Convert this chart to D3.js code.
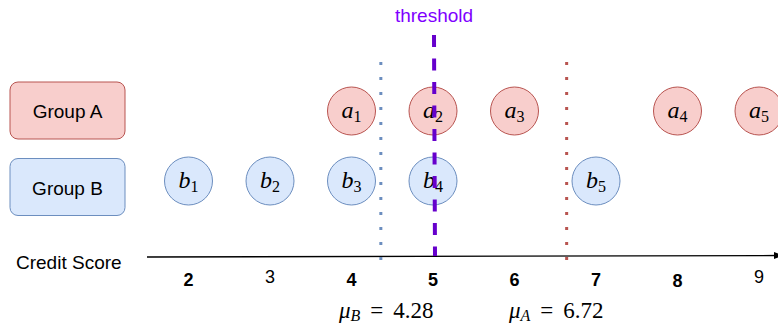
<!DOCTYPE html>
<html><head><meta charset="utf-8">
<script src="https://cdn.jsdelivr.net/npm/d3@7"></script>
<style>html,body{margin:0;padding:0;background:#fff;}svg{display:block;}</style>
</head><body>
<script>
// Data
const tickValues = [2, 3, 4, 5, 6, 7, 8, 9];
const groupAScores = [4, 5, 6, 8, 9];
const groupBScores = [2, 3, 4, 5, 7];
const groups = ["Group A", "Group B"];
const meanLinePositions = [4.36, 6.64]; // B, A (as drawn)
const meanLabels = [{sym: "B", value: "4.28"}, {sym: "A", value: "6.72"}];
const thresholdValue = 5;
const axisTitle = "Credit Score";

const W = 778, H = 325;
const svg = d3.select("body").append("svg").attr("width", W).attr("height", H);

const x = d3.scaleLinear().domain([2, 9]).range([188.5, 759]);
const yRow = d3.scalePoint().domain(groups).range([111, 181]);
const yBox = d3.scalePoint().domain(groups).range([110.5, 187]);
const axisY = 256.5;

const sans = "'Liberation Sans', Arial, Helvetica, sans-serif";
const serif = "'Liberation Serif', 'Times New Roman', serif";

const colors = {
  "Group A": {fill: "#f8cecc", stroke: "#b85450"},
  "Group B": {fill: "#dae8fc", stroke: "#6c8ebf"}
};

// Group boxes
const boxes = svg.append("g").selectAll("g").data(groups).join("g");
boxes.append("rect")
  .attr("x", 10).attr("y", d => yBox(d) - 28.5)
  .attr("width", 115).attr("height", 57).attr("rx", 8)
  .attr("fill", d => colors[d].fill).attr("stroke", d => colors[d].stroke).attr("stroke-width", 1);
boxes.append("text")
  .attr("x", 67.5).attr("y", d => yBox(d) + 7.5)
  .attr("text-anchor", "middle").attr("font-family", sans).attr("font-size", 19)
  .attr("fill", "#000").text(d => d);

// Axis line with arrow
const defs = svg.append("defs");
defs.append("marker").attr("id", "arr").attr("viewBox", "0 0 10 10")
  .attr("refX", 9).attr("refY", 5).attr("markerWidth", 7).attr("markerHeight", 7)
  .attr("orient", "auto").append("path").attr("d", "M0,1 L10,5 L0,9 Z").attr("fill", "#000");
svg.append("line").attr("x1", 147).attr("x2", 782).attr("y1", axisY + 0.5).attr("y2", axisY - 1)
  .attr("stroke", "#000").attr("stroke-width", 1.3).attr("marker-end", "url(#arr)");

// Tick labels
svg.append("g").selectAll("text").data(tickValues).join("text")
  .attr("x", d => x(d)).attr("y", d => (d === 3 || d === 9) ? 283 : (d === 8 ? 287 : 285.5))
  .attr("text-anchor", "middle").attr("font-family", sans).attr("font-size", 18)
  .attr("font-weight", d => (d === 3 || d === 9) ? "normal" : "bold")
  .attr("fill", "#000").text(d => d);

svg.append("text").attr("x", 16).attr("y", 269).attr("font-family", sans).attr("font-size", 19)
  .attr("fill", "#000").text(axisTitle);

// Mean lines
const meanColors = ["#6c8ebf", "#b85450"];
svg.append("g").selectAll("line").data(meanLinePositions).join("line")
  .attr("x1", d => x(d)).attr("x2", d => x(d)).attr("y1", 62).attr("y2", 264)
  .attr("stroke", (d, i) => meanColors[i]).attr("stroke-width", 3)
  .attr("stroke-dasharray", "3,12");

// Circles
function drawRow(group, scores, letter) {
  const g = svg.append("g").selectAll("g").data(scores).join("g")
    .attr("transform", d => `translate(${x(d)},${yRow(group)})`);
  g.append("circle").attr("r", 24)
    .attr("fill", colors[group].fill).attr("stroke", colors[group].stroke).attr("stroke-width", 1);
  const t = g.append("text").attr("text-anchor", "middle").attr("y", 7)
    .attr("font-family", serif).attr("font-size", 24).attr("fill", "#000");
  t.append("tspan").attr("font-style", "italic").text(letter);
  t.append("tspan").attr("font-size", 16).attr("dy", 4).text((d, i) => i + 1);
}
drawRow("Group A", groupAScores, "a");
drawRow("Group B", groupBScores, "b");

// Threshold
svg.append("line").attr("x1", x(thresholdValue) + 1).attr("x2", x(thresholdValue) + 2)
  .attr("y1", 35).attr("y2", 256)
  .attr("stroke", "#6600cc").attr("stroke-width", 4).attr("stroke-dasharray", "12,11.5");
svg.append("text").attr("x", x(thresholdValue) + 1).attr("y", 22).attr("text-anchor", "middle")
  .attr("font-family", sans).attr("font-size", 19).attr("fill", "#7f00ff").text("threshold");

// Mean labels
const meanLabelX = [339, 509];
const ml = svg.append("g").selectAll("text").data(meanLabels).join("text")
  .attr("x", (d, i) => meanLabelX[i]).attr("y", 318)
  .attr("font-family", serif).attr("font-size", 23).attr("fill", "#000");
ml.append("tspan").attr("font-style", "italic").text("μ");
ml.append("tspan").attr("font-style", "italic").attr("font-size", 16).attr("dy", 3).text(d => d.sym);
ml.append("tspan").attr("dy", -3).attr("dx", 10).text("=");
ml.append("tspan").attr("dx", 10).text(d => d.value);
</script>
</body></html>
